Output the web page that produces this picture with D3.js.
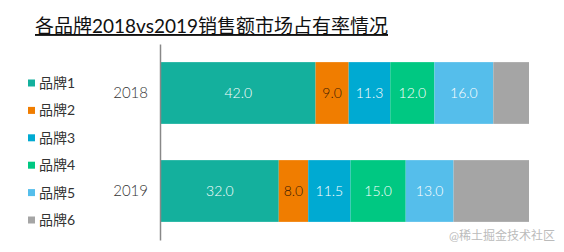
<!DOCTYPE html>
<html><head><meta charset="utf-8">
<script src="https://cdn.jsdelivr.net/npm/d3@7"></script>
<style>body{margin:0;background:#fff;}svg{display:block;}</style>
</head><body>
<svg id="c" width="564" height="252"></svg>
<script>
const categories = ["2018", "2019"];
const brands = ["品牌1", "品牌2", "品牌3", "品牌4", "品牌5", "品牌6"];
const values2018 = [42.0, 9.0, 11.3, 12.0, 16.0, 9.7];
const values2019 = [32.0, 8.0, 11.5, 15.0, 13.0, 20.5];
const colors = ["#14B09D", "#F07D00", "#00AAD2", "#00C882", "#55BEEB", "#A5A5A5"];
const labelColors = ["#fff", "#3a1a00", "#fff", "#fff", "#fff", null];
const title = "各品牌2018vs2019销售额市场占有率情况";

const font = "'Lato','Noto Sans CJK SC',sans-serif";
const svg = d3.select("#c");
const seriesByCat = [values2018, values2019];

const x = d3.scaleLinear().domain([0, 100]).range([161, 529]);
const y = d3.scaleBand().domain(categories).range([44, 240]).paddingInner(0.37).paddingOuter(0.185);

// title
svg.append("text").attr("x", 35).attr("y", 33).attr("font-family", font)
  .attr("font-size", 19).attr("fill", "#111").attr("text-decoration", "underline")
  .attr("font-weight", 400).attr("textLength", 353).attr("lengthAdjust", "spacingAndGlyphs").text(title);

// bars
categories.forEach((cat, ci) => {
  const vals = seriesByCat[ci];
  let acc = 0;
  vals.forEach((v, bi) => {
    const x0 = x(acc), x1 = x(acc + v);
    svg.append("rect").attr("x", x0).attr("y", y(cat)).attr("width", x1 - x0)
      .attr("height", y.bandwidth()).attr("fill", colors[bi]);
    if (labelColors[bi]) {
      svg.append("text").attr("x", (x0 + x1) / 2).attr("y", y(cat) + y.bandwidth() / 2)
        .attr("dy", "0.36em").attr("text-anchor", "middle").attr("font-family", font)
        .attr("font-size", 14).attr("font-weight", 300).attr("fill", labelColors[bi]).text(v.toFixed(1));
    }
    acc += v;
  });
});

// axis
const axis = d3.axisLeft(y).tickSize(0).tickPadding(12);
const ag = svg.append("g").attr("transform", `translate(160,0)`).call(axis);
ag.select(".domain").attr("stroke", "#888").attr("stroke-width", 1.5);
ag.selectAll("text").attr("font-family", font).attr("font-size", 15).attr("font-weight", 300).attr("fill", "#333");

// legend
const lg = svg.append("g");
brands.forEach((b, i) => {
  const yy = 83 + i * 27.4;
  lg.append("rect").attr("x", 28).attr("y", yy - 3.5).attr("width", 7).attr("height", 7).attr("fill", colors[i]);
  lg.append("text").attr("x", 39).attr("y", yy).attr("dy", "0.36em").attr("font-family", font)
    .attr("font-size", 14).attr("fill", "#333").text(b);
});

// watermark
svg.append("text").attr("x", 555).attr("y", 240).attr("text-anchor", "end")
  .attr("font-family", font).attr("font-size", 12).attr("fill", "#bbb").text("@稀土掘金技术社区");
</script>
</body></html>
